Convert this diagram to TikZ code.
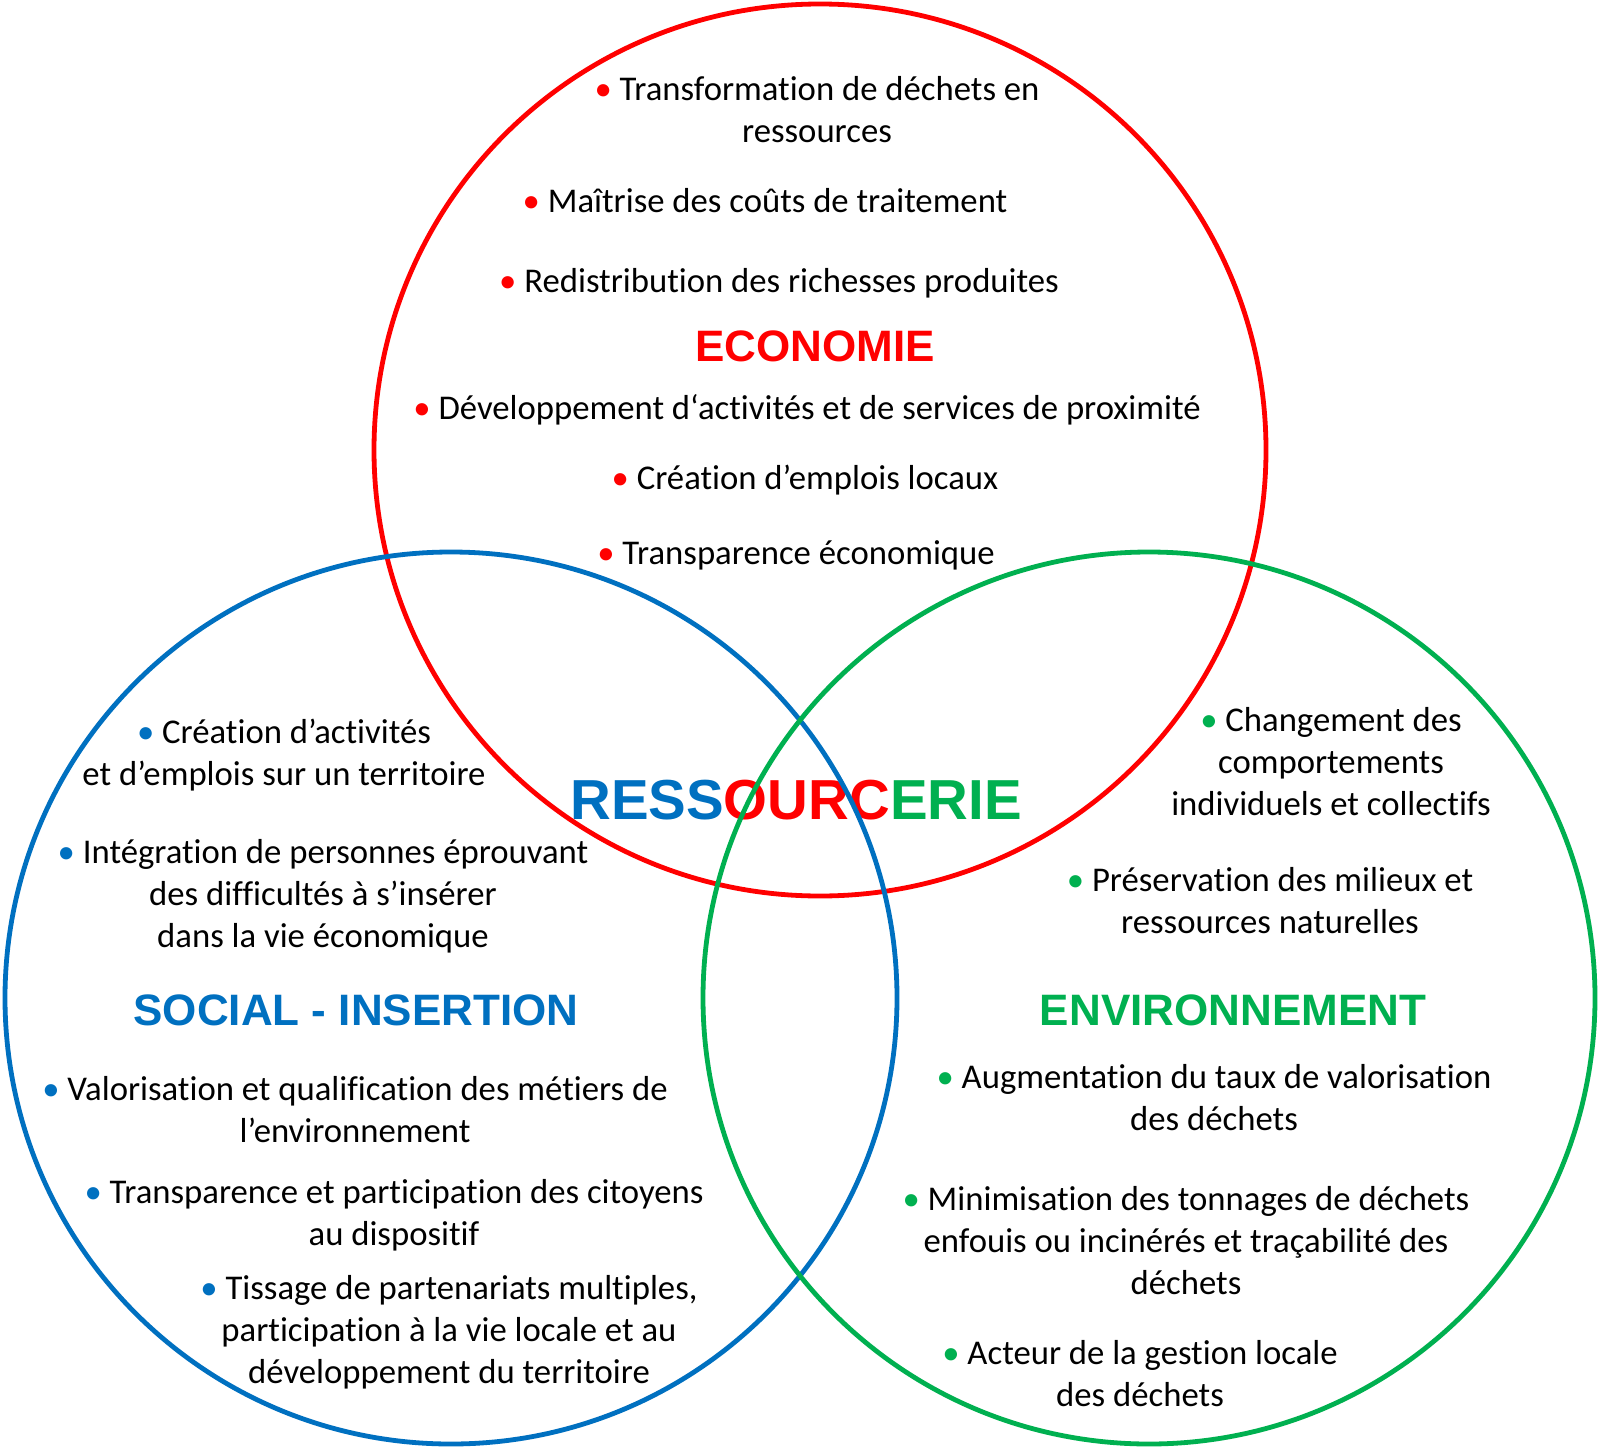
\documentclass[tikz,border=0pt]{standalone}
\usepackage{fontspec}
\setmainfont{Carlito}[Ligatures=CommonOff]
\newfontfamily\headfont{Liberation Sans}
\definecolor{cred}{RGB}{255,0,0}
\definecolor{cblue}{RGB}{0,112,192}
\definecolor{cgreen}{RGB}{0,176,80}
\newcommand\bul[1]{{\color{#1}•}\ }
\begin{document}
\begin{tikzpicture}[x=0.5pt,y=-0.5pt,
  item/.style={align=center, font=\fontsize{17.35}{21}\selectfont, inner sep=0pt, text=black, yshift=-0.8pt},
  head/.style={font=\headfont\bfseries\fontsize{22}{26}\selectfont, inner sep=0pt},
  ring/.style={line width=2.4pt}]
\useasboundingbox (0,0) rectangle (1600,1450);
\fill[white] (0,0) rectangle (1600,1450);
% red circle (under the title)
\draw[ring, cred] (820,450) circle[radius=223pt];
% title
\node[head, font=\headfont\bfseries\fontsize{28.2}{33}\selectfont] (title) at (796,800)
  {{\color{cblue}RESS}{\color{cred}OURC}{\color{cgreen}ERIE}};
% blue and green circles
\draw[ring, cblue] (451,998) circle[radius=223pt];
\draw[ring, cgreen] (1149,998) circle[radius=223pt];
% ECONOMIE
\node[head, text=cred] (eco) at (815,346) {ECONOMIE};
\node[item] (e1) at (817,108) {\bul{cred}Transformation de déchets en\\ressources};
\node[item] (e2) at (765,199) {\bul{cred}Maîtrise des coûts de traitement};
\node[item] (e3) at (779,282) {\bul{cred}Redistribution des richesses produites};
\node[item] (e4) at (807,408) {\bul{cred}Développement d‘activités et de services de proximité};
\node[item] (e5) at (805,478) {\bul{cred}Création d’emplois locaux};
\node[item] (e6) at (796,554) {\bul{cred}Transparence économique};
% SOCIAL
\node[head, text=cblue] (soc) at (356,1010) {SOCIAL - INSERTION};
\node[item] (s1) at (284,753) {\bul{cblue}Création d’activités\\et d’emplois sur un territoire};
\node[item] (s2) at (323,895) {\bul{cblue}Intégration de personnes éprouvant\\des difficultés à s’insérer\\dans la vie économique};
\node[item] (s3) at (355,1108) {\bul{cblue}Valorisation et qualification des métiers de\\l’environnement};
\node[item] (s4) at (394,1214) {\bul{cblue}Transparence et participation des citoyens\\au dispositif};
\node[item] (s5) at (449,1331) {\bul{cblue}Tissage de partenariats multiples,\\participation à la vie locale et au\\développement du territoire};
% ENVIRONNEMENT
\node[head, text=cgreen] (env) at (1233,1010) {ENVIRONNEMENT};
\node[item] (g1) at (1331,760) {\bul{cgreen}Changement des\\comportements\\individuels et collectifs};
\node[item] (g2) at (1270,899) {\bul{cgreen}Préservation des milieux et\\ressources naturelles};
\node[item] (g3) at (1214,1096) {\bul{cgreen}Augmentation du taux de valorisation\\des déchets};
\node[item] (g4) at (1186,1239) {\bul{cgreen}Minimisation des tonnages de déchets\\enfouis ou incinérés et traçabilité des\\déchets};
\node[item] (g5) at (1140,1372) {\bul{cgreen}Acteur de la gestion locale\\des déchets};
\end{tikzpicture}
\end{document}
